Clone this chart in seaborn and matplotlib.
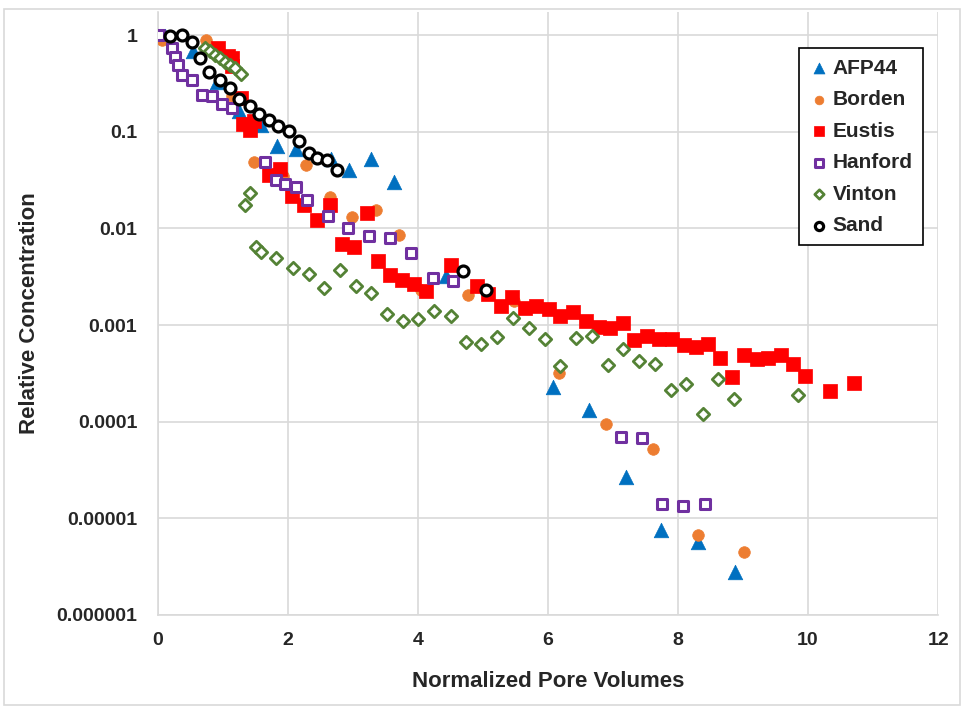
import numpy as np
import pandas as pd
import matplotlib
matplotlib.use("Agg")
import matplotlib.pyplot as plt
import seaborn as sns
from matplotlib.patches import Rectangle

# Datos
afp44_x = [0.10, 0.54, 0.91, 1.24, 1.58, 1.83, 2.12, 2.66, 2.94, 3.27, 3.63, 4.43, 6.08, 6.63, 7.20, 7.74, 8.30, 8.88]
afp44_y = [0.98, 0.69, 0.33, 0.163, 0.119, 0.072, 0.066, 0.052, 0.040, 0.052, 0.030, 0.0032, 0.00023, 0.000131, 0.0000267, 0.0000076, 0.0000057, 0.0000028]

borden_x = [0.06, 0.74, 1.14, 1.48, 1.93, 2.27, 2.64, 2.99, 3.35, 3.70, 4.05, 4.77, 5.48, 6.17, 6.89, 7.61, 8.30, 9.01]
borden_y = [0.90, 0.90, 0.233, 0.0486, 0.035, 0.045, 0.0212, 0.0132, 0.0155, 0.0086, 0.0023, 0.00205, 0.00177, 0.00032, 0.0000953, 0.0000522, 0.0000068, 0.0000045]

eustis_x = [0.93, 1.08, 1.14, 1.14, 1.27, 1.31, 1.42, 1.48, 1.70, 1.88, 2.06, 2.24, 2.45, 2.64, 2.83, 3.01,
            3.21, 3.39, 3.57, 3.75, 3.94, 4.12, 4.51, 4.90, 5.07, 5.27, 5.45, 5.64, 5.82, 6.01, 6.19, 6.39,
            6.58, 6.78, 6.95, 7.15, 7.33, 7.52, 7.71, 7.90, 8.09, 8.28, 8.46, 8.64, 8.83, 9.01, 9.21, 9.39,
            9.58, 9.77, 9.96, 10.33, 10.71]
eustis_y = [0.74, 0.61, 0.58, 0.48, 0.225, 0.12, 0.105, 0.13, 0.0355, 0.041, 0.0217, 0.0175, 0.0123, 0.0174, 0.0069, 0.0064,
            0.0144, 0.00457, 0.00332, 0.00295, 0.00267, 0.00227, 0.0042, 0.00256, 0.0021, 0.00157, 0.00194, 0.00151, 0.00157, 0.00147, 0.00124, 0.00138,
            0.00109, 0.00095, 0.00093, 0.00106, 0.000705, 0.00078, 0.00072, 0.00072, 0.00062, 0.0006, 0.00063, 0.000457, 0.00029, 0.00049, 0.00045, 0.000457,
            0.00049, 0.0004, 0.0003, 0.000207, 0.00025]

hanford_x = [0.02, 0.21, 0.26, 0.31, 0.37, 0.52, 0.67, 0.83, 0.98, 1.14, 1.64, 1.81, 1.96, 2.13, 2.29, 2.61, 2.92,
             3.25, 3.57, 3.89, 4.23, 4.54, 7.12, 7.44, 7.76, 8.08, 8.41]
hanford_y = [1.0, 0.73, 0.60, 0.49, 0.39, 0.346, 0.24, 0.233, 0.194, 0.177, 0.0486, 0.0315, 0.0286, 0.0271, 0.0196, 0.0135, 0.0101,
             0.0083, 0.0079, 0.0056, 0.00307, 0.00288, 0.0000689, 0.0000684, 0.0000140, 0.0000133, 0.0000140]

vinton_x = [0.73, 0.80, 0.88, 0.96, 1.03, 1.11, 1.19, 1.27, 1.34, 1.42, 1.50, 1.58, 1.82, 2.08, 2.32, 2.55, 2.80,
            3.04, 3.28, 3.53, 3.77, 4.00, 4.25, 4.50, 4.74, 4.97, 5.22, 5.46, 5.70, 5.95, 6.19, 6.43, 6.67,
            6.92, 7.16, 7.40, 7.65, 7.89, 8.12, 8.38, 8.62, 8.86, 9.84]
vinton_y = [0.73, 0.68, 0.63, 0.58, 0.53, 0.49, 0.46, 0.40, 0.0174, 0.0234, 0.0065, 0.00566, 0.0050, 0.0039, 0.00338, 0.00243, 0.00374,
            0.00256, 0.00214, 0.0013, 0.00111, 0.00116, 0.00141, 0.00124, 0.00067, 0.00063, 0.00075, 0.00119, 0.00093, 0.00071, 0.00038, 0.00073, 0.00077,
            0.00039, 0.00056, 0.00043, 0.0004, 0.000215, 0.000243, 0.00012, 0.000276, 0.000171, 0.000191]

sand_x = [0.19, 0.37, 0.52, 0.65, 0.79, 0.96, 1.11, 1.24, 1.42, 1.55, 1.71, 1.85, 2.01, 2.17, 2.32, 2.45, 2.60, 2.76, 4.69, 5.05]
sand_y = [0.98, 1.0, 0.86, 0.58, 0.42, 0.34, 0.284, 0.22, 0.184, 0.153, 0.132, 0.114, 0.103, 0.080, 0.061, 0.054, 0.0506, 0.040, 0.00366, 0.00231]

ytick_vals = [1, 0.1, 0.01, 0.001, 0.0001, 0.00001, 0.000001]
ytick_labels = ["1", "0.1", "0.01", "0.001", "0.0001", "0.00001", "0.000001"]
xtick_vals = [0, 2, 4, 6, 8, 10, 12]

frames = []
for name, xs, ys in [("AFP44", afp44_x, afp44_y), ("Borden", borden_x, borden_y),
                     ("Eustis", eustis_x, eustis_y), ("Hanford", hanford_x, hanford_y),
                     ("Vinton", vinton_x, vinton_y), ("Sand", sand_x, sand_y)]:
    frames.append(pd.DataFrame({"pv": xs, "conc": ys, "site": name}))
data = pd.concat(frames, ignore_index=True)

# estilo de cada serie
estilos = {
    "AFP44":   dict(marker="^", color="#0070C0", facecolor="#0070C0", edgecolor="#0070C0", s=110, linewidth=0.5),
    "Borden":  dict(marker="o", color="#ED7D31", facecolor="#ED7D31", edgecolor="#ED7D31", s=70, linewidth=0.5),
    "Eustis":  dict(marker="s", color="#FF0000", facecolor="#FF0000", edgecolor="#FF0000", s=92, linewidth=0.5),
    "Hanford": dict(marker="s", color="#7030A0", facecolor="white", edgecolor="#7030A0", s=62, linewidth=2.2),
    "Vinton":  dict(marker="D", color="#548235", facecolor="white", edgecolor="#548235", s=40, linewidth=2.0),
    "Sand":    dict(marker="o", color="black", facecolor="white", edgecolor="black", s=62, linewidth=2.3),
}

sns.set_theme(style="whitegrid")
plt.rcParams['font.family'] = ['Liberation Sans', 'DejaVu Sans']

fig = plt.figure(figsize=(9.64, 7.09), dpi=100)
ax = fig.add_axes([0.1639, 0.1326, 0.8092, 0.8505])

for site in ["AFP44", "Borden", "Eustis", "Hanford", "Vinton", "Sand"]:
    sub = data[data["site"] == site]
    sns.scatterplot(data=sub, x="pv", y="conc", ax=ax, label=site, zorder=3, **estilos[site])

ax.set_yscale("log")
ax.set_xlim(0, 12)
ax.set_ylim(1e-6, 10 ** 0.24)
ax.set_xticks(xtick_vals)
ax.set_xticklabels([str(v) for v in xtick_vals])
ax.set_yticks(ytick_vals)
ax.set_yticklabels(ytick_labels)
ax.yaxis.set_minor_locator(matplotlib.ticker.NullLocator())
ax.tick_params(axis="both", which="both", length=0, labelsize=14)
ax.tick_params(axis="y", pad=15)
ax.tick_params(axis="x", pad=12)
for lab in ax.get_xticklabels() + ax.get_yticklabels():
    lab.set_fontweight("bold")

ax.grid(True, color="#D9D9D9", linewidth=1.2)
for side in ["top", "right"]:
    ax.spines[side].set_visible(False)
for side in ["left", "bottom"]:
    ax.spines[side].set_color("#D9D9D9")
    ax.spines[side].set_linewidth(1.2)

ax.set_xlabel("Normalized Pore Volumes", fontsize=16, fontweight="bold", labelpad=16)
ax.set_ylabel("Relative Concentration", fontsize=16, fontweight="bold", labelpad=12)

leg = ax.legend(loc="upper right", bbox_to_anchor=(0.981, 0.94), borderaxespad=0,
                frameon=True, fancybox=False, edgecolor="black", framealpha=1,
                prop={"size": 15, "weight": "bold"}, markerscale=0.75,
                handletextpad=0.2, handlelength=0.9, labelspacing=0.6, borderpad=0.5)
leg.get_frame().set_linewidth(1.2)

# borde del grafico
fig.patches.append(Rectangle((0.004, 0.006), 0.992, 0.982, transform=fig.transFigure,
                             fill=False, edgecolor="#D9D9D9", linewidth=1.2))

fig.savefig("out.png", dpi=100)
